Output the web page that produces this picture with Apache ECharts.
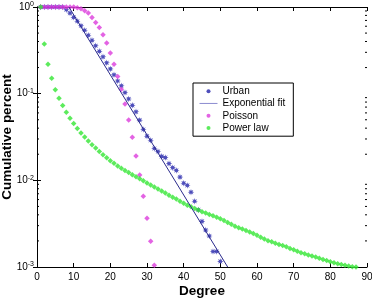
<!DOCTYPE html>
<html>
<head lang="en">
    <meta charset="UTF-8"/>
    <title>Cumulative degree distribution</title>
    <script src="https://cdn.jsdelivr.net/npm/echarts@6/dist/echarts.min.js"></script>
    <style>
        html, body { margin: 0; padding: 0; background: #fff; }
        #chart { width: 372px; height: 299px; }
    </style>
</head>
<body>
<div id="chart"></div>
<script>
    // values per degree, starting at degree 1
    var urban = [1, 1, 1, 1, 1, 1, 1, 0.93, 0.85, 0.76,
        0.685, 0.608, 0.539, 0.472, 0.413, 0.357, 0.308, 0.266, 0.227, 0.193,
        0.165, 0.140, 0.123, 0.103, 0.0869, 0.0733, 0.0618, 0.0495, 0.0386, 0.0323,
        0.029, 0.0233, 0.0215, 0.0189, 0.0183, 0.0156, 0.014, 0.013, 0.0109, 0.00927,
        0.00873, 0.0073, 0.00574, 0.00456, 0.00336, 0.00267, 0.00228, 0.00151, 0.00151, 0.00116];

    var poisson = [1, 1, 1, 1, 1, 1, 1, 1, 1, 1,
        0.981, 0.956, 0.906, 0.852, 0.758, 0.664, 0.581, 0.478, 0.3835, 0.294,
        0.219, 0.158, 0.1127, 0.0761, 0.0498, 0.0314, 0.0191, 0.0115, 0.00657, 0.00366,
        0.00198, 0.00105];

    var powerLaw = [1, 0.373, 0.219, 0.151, 0.111, 0.0887, 0.0728, 0.0611, 0.052, 0.0453,
        0.0397, 0.0352, 0.0316, 0.0284, 0.0258, 0.0236, 0.0215, 0.0197, 0.0182, 0.0168,
        0.0157, 0.0146, 0.0138, 0.013, 0.0123, 0.0116, 0.011, 0.0104, 0.00986, 0.00932,
        0.00881, 0.00835, 0.00792, 0.00751, 0.00712, 0.00675, 0.0064, 0.00607, 0.00575, 0.00545,
        0.00517, 0.00496, 0.00473, 0.00454, 0.00435, 0.00419, 0.00404, 0.00389, 0.00375, 0.00361,
        0.00343, 0.00327, 0.00311, 0.00296, 0.00284, 0.00274, 0.00263, 0.00253, 0.00243, 0.00232,
        0.00221, 0.00211, 0.00201, 0.00195, 0.00188, 0.00182, 0.00177, 0.00171, 0.00164, 0.00158,
        0.00152, 0.00146, 0.00142, 0.00138, 0.00134, 0.0013, 0.00126, 0.00122, 0.00119, 0.00115,
        0.00112, 0.00109, 0.00107, 0.00105, 0.00103, 0.00101, 0.001];

    var expFitX = [8.7, 52];
    var expFitY = [1, 0.001];

    var yDecades = [0.001, 0.01, 0.1];

    function toPoints(vals) {
        return vals.map(function (v, i) { return [i + 1, v]; });
    }

    // log minor ticks 2..9 in each decade
    var minorTicks = [];
    yDecades.forEach(function (d) {
        for (var k = 2; k <= 9; k++) minorTicks.push(k * d);
    });

    // asterisk-like star marker
    var star = 'path://';
    for (var i = 0; i < 16; i++) {
        var a = i * Math.PI / 8 - Math.PI / 2;
        var r = i % 2 === 0 ? 1 : 0.45;
        star += (i === 0 ? 'M' : 'L') + (r * Math.cos(a)).toFixed(3) + ',' + (r * Math.sin(a)).toFixed(3);
    }
    star += 'Z';

    var font = 'Liberation Sans, Arial, Helvetica, sans-serif';
    var black = '#000';

    var myChart = echarts.init(document.getElementById('chart'));
    var option = {
        animation: false,
        backgroundColor: '#fff',
        textStyle: {fontFamily: font},
        grid: {left: 37, right: 5, top: 7, bottom: 32, containLabel: false, outerBoundsMode: 'none'},
        legend: {
            orient: 'vertical',
            left: 193,
            top: 83,
            itemWidth: 18,
            itemHeight: 4,
            itemGap: 0,
            padding: [2, 8, 2, 6],
            borderColor: black,
            borderWidth: 1,
            borderRadius: 0,
            backgroundColor: '#fff',
            textStyle: {fontSize: 10, color: black, fontFamily: font, lineHeight: 12.3},
            data: [
                {name: 'Urban', icon: 'circle'},
                {name: 'Exponential fit', lineStyle: {width: 1, color: '#8c8cd0'}, itemStyle: {opacity: 0}},
                {name: 'Poisson', icon: 'circle'},
                {name: 'Power law', icon: 'circle'}
            ]
        },
        xAxis: [{
            type: 'value',
            min: 0,
            max: 90,
            interval: 10,
            position: 'bottom',
            name: 'Degree',
            nameLocation: 'middle',
            nameGap: 17,
            nameMoveOverlap: false,
            nameTextStyle: {fontSize: 13.5, fontWeight: 'bold', color: black, fontFamily: font},
            axisLine: {lineStyle: {color: black, width: 1}},
            axisTick: {inside: true, length: 4, lineStyle: {color: black}},
            axisLabel: {fontSize: 10, color: black, margin: 5, fontFamily: font},
            splitLine: {show: false}
        }, {
            type: 'value',
            min: 0,
            max: 90,
            interval: 10,
            position: 'top',
            axisLine: {lineStyle: {color: black, width: 1}},
            axisTick: {inside: true, length: 4, lineStyle: {color: black}},
            axisLabel: {show: false},
            splitLine: {show: false}
        }],
        yAxis: [{
            type: 'log',
            logBase: 10,
            min: 0.001,
            max: 1,
            position: 'left',
            name: 'Cumulative percent',
            nameLocation: 'middle',
            nameGap: 23,
            nameMoveOverlap: false,
            nameTextStyle: {fontSize: 13.5, fontWeight: 'bold', color: black, fontFamily: font},
            axisLine: {lineStyle: {color: black, width: 1}},
            axisTick: {inside: true, length: 4, lineStyle: {color: black}},
            axisLabel: {
                margin: 3,
                color: black,
                formatter: function (v) {
                    var e = Math.round(Math.log10(v));
                    return '{b|10}{s|' + e + '}';
                },
                rich: {
                    b: {fontSize: 10, lineHeight: 12, color: black, fontFamily: font},
                    s: {fontSize: 7, lineHeight: 7, verticalAlign: 'top', color: black, fontFamily: font}
                }
            },
            splitLine: {show: false}
        }, {
            type: 'log',
            logBase: 10,
            min: 0.001,
            max: 1,
            position: 'right',
            axisLine: {lineStyle: {color: black, width: 1}},
            axisTick: {inside: true, length: 4, lineStyle: {color: black}},
            axisLabel: {show: false},
            splitLine: {show: false}
        }],
        series: [{
            name: 'Urban',
            type: 'scatter',
            symbol: star,
            symbolSize: 6.5,
            itemStyle: {color: '#2222aa'},
            data: toPoints(urban)
        }, {
            name: 'Exponential fit',
            type: 'line',
            symbol: 'none',
            lineStyle: {color: '#2b2b8c', width: 1},
            data: [[expFitX[0], expFitY[0]], [expFitX[1], expFitY[1]]]
        }, {
            name: 'Poisson',
            type: 'scatter',
            symbol: 'diamond',
            symbolSize: 5.5,
            itemStyle: {color: '#dc3cdc'},
            data: toPoints(poisson)
        }, {
            name: 'Power law',
            type: 'scatter',
            symbol: 'diamond',
            symbolSize: 5.5,
            itemStyle: {color: '#33e633'},
            data: toPoints(powerLaw)
        }, {
            name: 'minor',
            type: 'custom',
            silent: true,
            clip: false,
            data: minorTicks.map(function (v) { return [0, v]; }),
            renderItem: function (params, api) {
                var v = api.value(1);
                var l = api.coord([0, v]);
                var r = api.coord([90, v]);
                return {
                    type: 'group',
                    children: [{
                        type: 'line',
                        shape: {x1: l[0], y1: l[1], x2: l[0] + 2, y2: l[1]},
                        style: {stroke: black, lineWidth: 1}
                    }, {
                        type: 'line',
                        shape: {x1: r[0] - 2, y1: r[1], x2: r[0], y2: r[1]},
                        style: {stroke: black, lineWidth: 1}
                    }]
                };
            }
        }]
    };
    myChart.setOption(option);
</script>
</body>
</html>
